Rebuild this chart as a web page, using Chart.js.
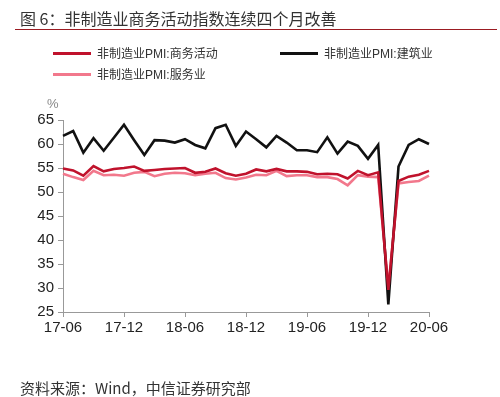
<!DOCTYPE html>
<html>
<head>
<meta charset="utf-8">
<script src="https://cdn.jsdelivr.net/npm/chart.js@4.4.0/dist/chart.umd.min.js"></script>
<style>
  body { margin: 0; background: #fff; }
  #wrap { position: relative; width: 500px; height: 397px; overflow: hidden;
          font-family: "Liberation Sans", "Noto Sans CJK SC", sans-serif; color: #333; }
  #title { position: absolute; left: 20px; top: 6px; font-size: 16px; color: #333;
           font-family: "Noto Sans CJK SC", sans-serif; white-space: nowrap; }
  #rule { position: absolute; left: 15px; top: 29px; width: 482px; height: 0;
          border-top: 1.5px solid #9b1b22; }
  .leg { position: absolute; font-size: 12px; color: #333; white-space: nowrap;
         font-family: "Liberation Sans", "Noto Sans CJK SC", sans-serif; line-height: 14px; }
  .sw { display: inline-block; width: 38px; height: 3px; vertical-align: middle;
        margin-right: 6px; position: relative; top: -1px; }
  #pct { position: absolute; left: 47px; top: 96px; font-size: 13px; color: #888; }
  #src { position: absolute; left: 20px; top: 377px; font-size: 15px; color: #333;
         font-family: "Noto Sans CJK SC", sans-serif; white-space: nowrap; }
  canvas { position: absolute; left: 0; top: 0; }
</style>
</head>
<body>
<div id="wrap">
  <canvas id="c" width="500" height="397"></canvas>
  <div id="title">图 6：非制造业商务活动指数连续四个月改善</div>
  <div id="rule"></div>
  <div id="legend"></div>
  <div id="pct">%</div>
  <div id="src">资料来源：Wind，中信证券研究部</div>
</div>
<script>
// months 17-06 .. 20-06
const months = [
  '17-06','17-07','17-08','17-09','17-10','17-11','17-12',
  '18-01','18-02','18-03','18-04','18-05','18-06','18-07','18-08','18-09','18-10','18-11','18-12',
  '19-01','19-02','19-03','19-04','19-05','19-06','19-07','19-08','19-09','19-10','19-11','19-12',
  '20-01','20-02','20-03','20-04','20-05','20-06'
];
const seriesNames = ['非制造业PMI:商务活动', '非制造业PMI:建筑业', '非制造业PMI:服务业'];
const business = [
  54.9, 54.5, 53.4, 55.4, 54.3, 54.8, 55.0,
  55.3, 54.4, 54.6, 54.8, 54.9, 55.0, 54.0, 54.2, 54.9, 53.9, 53.4, 53.8,
  54.7, 54.3, 54.8, 54.3, 54.3, 54.2, 53.7, 53.8, 53.7, 52.8, 54.4, 53.5,
  54.1, 29.6, 52.3, 53.2, 53.6, 54.4
];
const construction = [
  61.7, 62.7, 58.2, 61.2, 58.6, 61.3, 64.0,
  60.8, 57.7, 60.8, 60.7, 60.3, 61.0, 59.8, 59.1, 63.3, 64.0, 59.6, 62.6,
  61.0, 59.3, 61.7, 60.3, 58.7, 58.7, 58.3, 61.4, 58.0, 60.5, 59.6, 56.9,
  59.8, 26.6, 55.3, 59.8, 61.0, 60.0
];
const services = [
  53.8, 53.1, 52.5, 54.4, 53.5, 53.6, 53.4,
  54.0, 54.2, 53.3, 53.8, 54.0, 53.9, 53.5, 53.8, 54.0, 52.9, 52.6, 53.0,
  53.6, 53.5, 54.4, 53.3, 53.5, 53.5, 53.1, 53.1, 52.7, 51.4, 53.5, 53.2,
  53.1, 30.1, 51.8, 52.1, 52.3, 53.4
];
const yTicks = [25, 30, 35, 40, 45, 50, 55, 60, 65];
const colors = ['#c0122c', '#111111', '#f2788c'];

// legend built from names/colours
const legendPos = [[53, 47], [280, 47], [53, 68]];
const legend = document.getElementById('legend');
seriesNames.forEach((name, i) => {
  const d = document.createElement('div');
  d.className = 'leg';
  d.style.left = legendPos[i][0] + 'px';
  d.style.top = legendPos[i][1] + 'px';
  d.innerHTML = '<span class="sw" style="background:' + colors[i] + '"></span>' + name;
  legend.appendChild(d);
});

const axisColor = '#999';

new Chart(document.getElementById('c'), {
  type: 'line',
  data: {
    labels: months,
    datasets: [business, construction, services].map((data, i) => ({
      label: seriesNames[i],
      data: data,
      borderColor: colors[i],
      backgroundColor: colors[i],
      borderWidth: 2.6,
      pointRadius: 0,
      tension: 0
    }))
  },
  options: {
    responsive: false,
    animation: false,
    layout: { padding: { left: 0, right: 71, top: 120, bottom: 55 } },
    plugins: { legend: { display: false }, tooltip: { enabled: false } },
    scales: {
      x: {
        type: 'category',
        offset: false,
        afterFit: s => { s.height = 30; },
        border: { color: axisColor, width: 1 },
        grid: {
          drawOnChartArea: false,
          drawTicks: true,
          tickLength: 5,
          color: ctx => (ctx.index % 6 === 0 ? axisColor : 'rgba(0,0,0,0)')
        },
        ticks: {
          autoSkip: false,
          maxRotation: 0,
          padding: 2,
          color: '#222',
          font: { family: 'Liberation Sans', size: 15 },
          callback: (v, i) => (i % 6 === 0 ? months[i] : '')
        }
      },
      y: {
        min: yTicks[0],
        max: yTicks[yTicks.length - 1],
        afterFit: s => { s.width = 63; },
        afterBuildTicks: s => { s.ticks = yTicks.map(v => ({ value: v })); },
        border: { color: axisColor, width: 1 },
        grid: { drawOnChartArea: false, drawTicks: true, tickLength: 5, color: axisColor },
        ticks: {
          padding: 4,
          color: '#222',
          font: { family: 'Liberation Sans', size: 15 }
        }
      }
    }
  }
});
</script>
</body>
</html>
